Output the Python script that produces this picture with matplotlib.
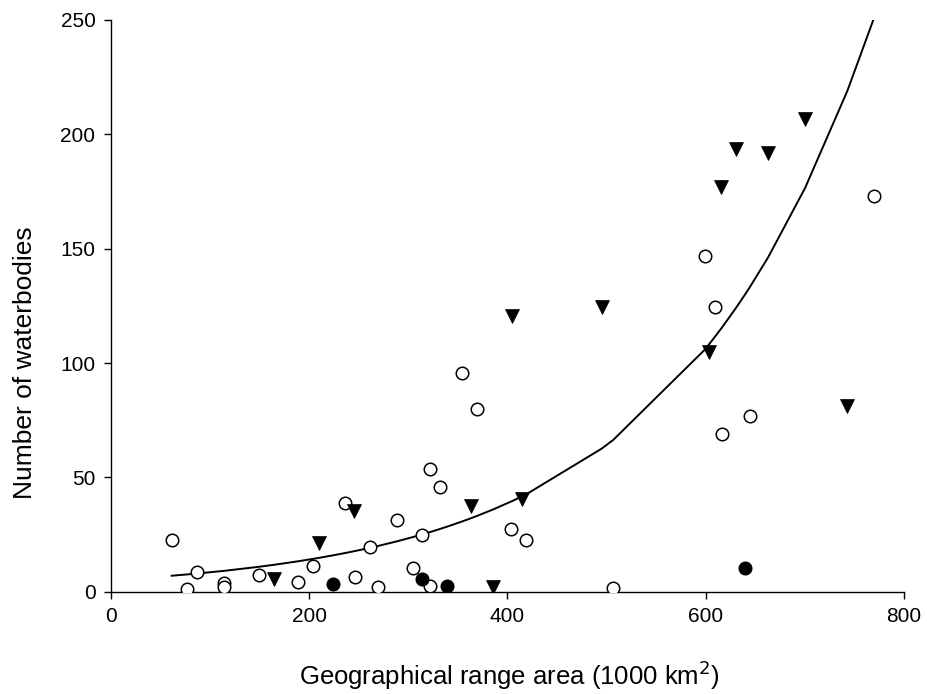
import numpy as np
import matplotlib
matplotlib.use("Agg")
import matplotlib.pyplot as plt

plt.rcParams['font.family'] = ['Liberation Sans', 'DejaVu Sans']

# open circles
open_x = [61.5, 76.6, 86.7, 114.3, 114.3, 149.2, 189.2, 204.3, 236.3, 246.3, 261.5, 269.2,
          289.0, 304.5, 314.2, 321.7, 321.7, 331.7, 354.2, 369.0, 404.0, 419.1, 506.8,
          599.0, 609.0, 616.7, 644.3, 769.4]
open_y = [22.5, 1.4, 8.4, 3.8, 2.2, 7.5, 4.4, 11.4, 38.6, 6.4, 19.5, 2.2,
          31.5, 10.4, 24.6, 53.7, 2.4, 45.6, 95.8, 79.7, 27.5, 22.5, 1.5,
          146.9, 124.7, 69.0, 76.8, 173.0]

# filled triangles
tri_x = [165.0, 210.4, 245.3, 363.0, 385.2, 405.0, 415.0, 495.0, 603.0, 615.4, 630.2,
         662.8, 700.1, 742.8]
tri_y = [5.6, 21.5, 35.5, 37.6, 2.2, 120.6, 40.5, 124.7, 104.8, 176.9, 193.7,
         192.0, 206.9, 81.4]

# filled circles
fill_x = [224.5, 314.2, 339.1, 639.6]
fill_y = [3.4, 5.6, 2.4, 10.3]

# exponential fit y = a*exp(b*x)
fit_a = 5.116
fit_b = 0.005057

fig = plt.figure(figsize=(9.27, 6.94), dpi=100)
ax = fig.add_axes([0.1194, 0.1474, 0.8558, 0.8238])

xs = np.unique(np.concatenate([open_x, tri_x, fill_x]))
ax.plot(xs, fit_a * np.exp(fit_b * xs), color='black', lw=1.4, zorder=1)

ax.plot(open_x, open_y, 'o', ms=9, mfc='white', mec='black', mew=1.1, zorder=3)
ax.plot(tri_x, tri_y, 'v', ms=10.5, mfc='black', mec='black', mew=0.5, zorder=3)
ax.plot(fill_x, fill_y, 'o', ms=9, mfc='black', mec='black', mew=1.1, zorder=3)

ax.set_xlim(0, 800)
ax.set_ylim(0, 250)
ax.set_xticks([0, 200, 400, 600, 800])
ax.set_yticks([0, 50, 100, 150, 200, 250])
ax.spines['top'].set_visible(False)
ax.spines['right'].set_visible(False)
for s in ['left', 'bottom']:
    ax.spines[s].set_linewidth(1.0)
ax.tick_params(direction='out', length=5, width=1.0, labelsize=15, pad=6)

ax.set_xlabel('Geographical range area (1000 km$^2$)', fontsize=18.5)
ax.set_ylabel('Number of waterbodies', fontsize=19)
ax.xaxis.set_label_coords(0.503, -0.116)
ax.yaxis.set_label_coords(-0.093, 0.40)

fig.savefig('out.png', dpi=100)
